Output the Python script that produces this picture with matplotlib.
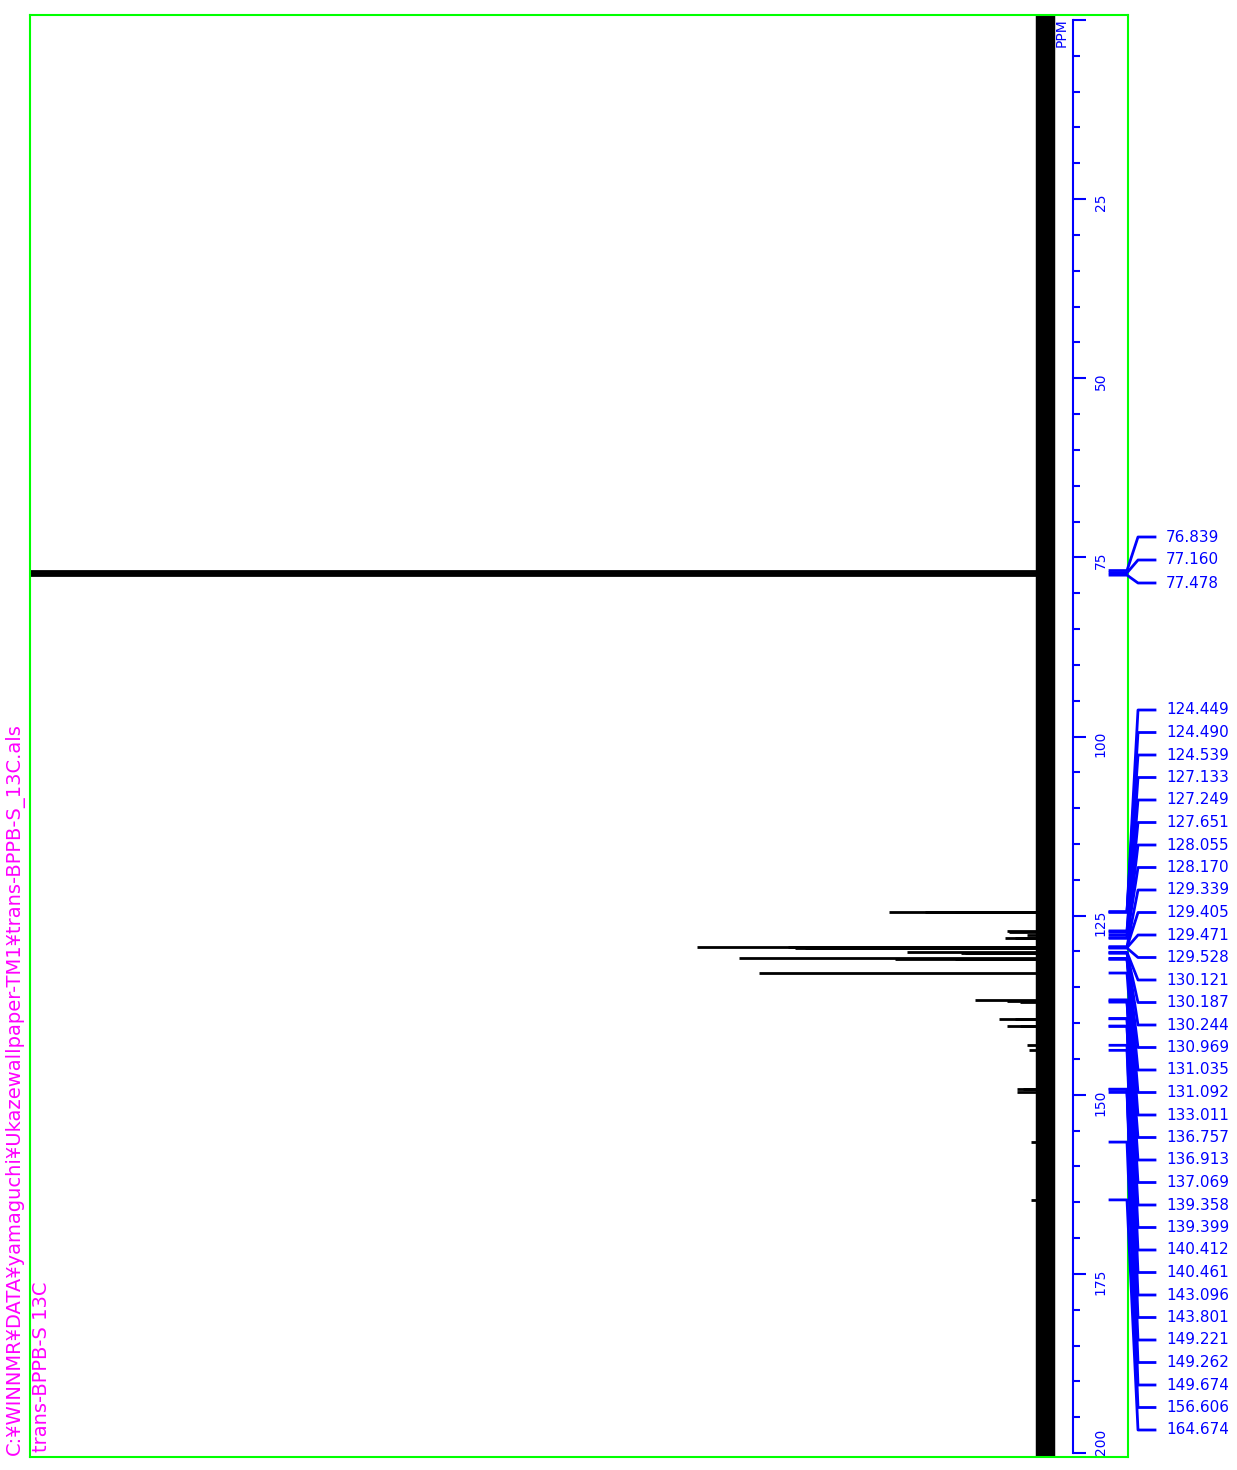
import numpy as np
import matplotlib.pyplot as plt
from matplotlib.ticker import MultipleLocator, FuncFormatter

# 13C peaks: ppm and height (height in plot units, solvent triplet runs off the frame)
peak_ppm = [76.839, 77.160, 77.478,
            124.449, 124.490, 124.539, 127.133, 127.249, 127.651, 128.055, 128.170,
            129.339, 129.405, 129.471, 129.528, 130.121, 130.187, 130.244,
            130.969, 131.035, 131.092, 133.011, 136.757, 136.913, 137.069,
            139.358, 139.399, 140.412, 140.461, 143.096, 143.801,
            149.221, 149.262, 149.674, 156.606, 164.674]
peak_int = [1100, 1150, 1100,
            156, 120, 90, 38, 36, 18, 40, 30,
            348, 257, 250, 240, 138, 84, 80,
            306, 150, 90, 286, 70, 38, 25,
            46, 30, 38, 25, 18, 16,
            28, 22, 28, 14, 14]

path_text = 'C:¥WINNMR¥DATA¥yamaguchi¥Ukazewallpaper-TM1¥trans-BPPB-S_13C.als'
title_text = 'trans-BPPB-S 13C'

W, H = 1237, 1470
fig = plt.figure(figsize=(W / 100, H / 100), dpi=100)

def px2ppm(py):
    return (py - 20) / 7.165

ppm_top, ppm_bot = px2ppm(15), px2ppm(1457)

ax = fig.add_axes([30 / W, 13 / H, 1098 / W, 1442 / H])
ax.set_xlim(1015, -83)
ax.set_ylim(ppm_bot, ppm_top)
ax.axvline(0, color='black', lw=14)
ax.hlines(peak_ppm, 0, peak_int, color='black', lw=2)
for s in ax.spines.values():
    s.set_color('#00ff00')
    s.set_linewidth(1.5)
ax.set_xticks([])
ax.set_yticks([])

ax2 = ax.twinx()
ax2.set_ylim(ppm_bot, ppm_top)
for k in ['left', 'top', 'bottom']:
    ax2.spines[k].set_visible(False)
ax2.spines['right'].set_position(('data', -28))
ax2.spines['right'].set_bounds(0, 200)
ax2.spines['right'].set_color('blue')
ax2.spines['right'].set_linewidth(1.5)
ax2.yaxis.set_major_locator(MultipleLocator(25))
ax2.yaxis.set_minor_locator(MultipleLocator(5))
ax2.yaxis.set_major_formatter(FuncFormatter(lambda v, p: '' if v in (0, 200) else '%d' % v))
ax2.tick_params(axis='y', which='major', length=9, width=1.5, color='blue',
                labelcolor='blue', labelsize=10, labelrotation=90, pad=6)
ax2.tick_params(axis='y', which='minor', length=5, width=1.5, color='blue')
ax.text(-17, ppm_top + 0.4, 'PPM', rotation=90, ha='center', va='top', color='blue', fontsize=10)
ax.text(-56, 200.3, '200', rotation=90, ha='center', va='bottom', color='blue', fontsize=10)

# peak pick labels
axp = fig.add_axes([0, 13 / H, 1, 1442 / H], zorder=5)
axp.set_xlim(0, W)
axp.set_ylim(ppm_bot, ppm_top)
axp.axis('off')
label_py = list(np.array([537, 560, 583])) + list(np.linspace(710, 1430, len(peak_ppm) - 3))
for ppm, py in zip(peak_ppm, label_py):
    ly = px2ppm(py)
    axp.plot([1110, 1127, 1138, 1155], [ppm, ppm, ly, ly], color='blue', lw=2, clip_on=False)
    axp.text(1166, ly, '%.3f' % ppm, color='blue', fontsize=11, ha='left', va='center')

fig.text(15 / W, 1 - 1455 / H, path_text, rotation=90, color='#ff00ff', fontsize=14,
         ha='center', va='bottom')
fig.text(42 / W, 1 - 1452 / H, title_text, rotation=90, color='#ff00ff', fontsize=14,
         ha='center', va='bottom')

plt.savefig('out.png', dpi=100)
